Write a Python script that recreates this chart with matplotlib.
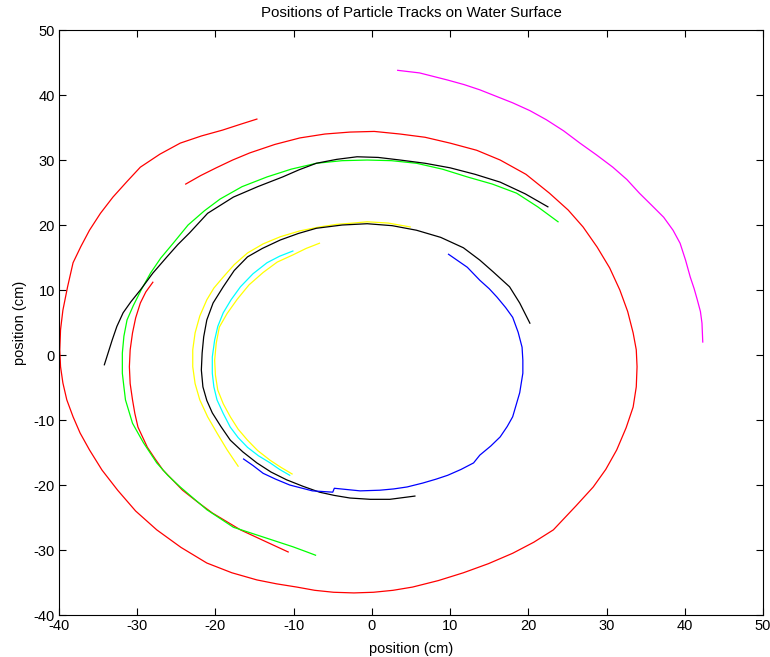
import matplotlib

matplotlib.use("Agg")
import matplotlib.pyplot as plt

# red spiral, one full loop
red1_x = [-23.8, -21.9, -19.9, -17.8, -15.6, -12.4, -9.2, -6.0, -2.8, 0.3, 3.6, 6.8, 10.0, 13.4,
          16.4, 19.7, 22.7, 25.1, 27.0, 28.8, 30.4, 31.7, 32.7, 33.4, 33.8, 33.9, 33.8, 33.4, 32.5,
          31.3, 29.9, 28.3, 26.1, 23.2, 20.7, 18.0, 14.9, 11.7, 8.5, 5.2, 2.7, 0.2, -2.3, -4.9,
          -7.3, -9.6, -12.2, -14.7, -17.9, -21.1, -24.4, -27.5, -30.2, -32.5, -34.5, -36.1, -37.3,
          -38.2, -39.0, -39.5, -39.8, -39.9, -39.8, -39.5, -38.9, -38.2, -37.2, -36.1, -34.7, -33.1,
          -31.3, -29.6, -27.1, -24.5, -21.8, -19.1, -16.8, -14.7]
red1_y = [26.3, 27.6, 28.8, 30.0, 31.1, 32.4, 33.4, 34.0, 34.3, 34.4, 34.0, 33.5, 32.6, 31.5,
          30.0, 27.8, 24.9, 22.3, 19.7, 16.6, 13.4, 10.0, 6.7, 3.4, 0.8, -1.8, -4.9, -8.0, -11.2,
          -14.6, -17.6, -20.3, -23.2, -26.9, -28.8, -30.5, -32.1, -33.5, -34.7, -35.7, -36.2, -36.5,
          -36.6, -36.5, -36.2, -35.7, -35.2, -34.6, -33.5, -32.0, -29.6, -26.9, -24.0, -20.8, -17.7,
          -14.6, -12.0, -9.5, -6.9, -4.3, -1.8, 0.8, 3.9, 6.9, 10.5, 14.2, 16.7, 19.2, 21.8, 24.3,
          26.7, 28.9, 30.9, 32.6, 33.7, 34.6, 35.5, 36.3]

red2_x = [-28.0, -28.9, -29.6, -30.2, -30.6, -30.9, -31.0, -30.9, -30.6, -30.3, -29.9, -28.7,
          -27.7, -26.7, -24.2, -22.3, -20.4, -16.8, -13.4, -10.7]
red2_y = [11.2, 9.7, 8.0, 5.7, 3.4, 0.8, -1.8, -4.4, -6.9, -9.0, -11.1, -14.2,
          -16.0, -17.7, -20.8, -22.6, -24.3, -26.9, -28.8, -30.3]

green_x = [23.8, 21.2, 18.5, 15.4, 12.2, 9.0, 5.7, 2.5, -0.6, -3.8, -7.1, -10.3, -13.4, -16.6,
           -19.4, -21.4, -23.5, -25.4, -27.0, -28.3, -29.5, -30.5, -31.3, -31.7, -31.9, -31.9,
           -31.7, -31.5, -30.6, -29.2, -27.5, -26.1, -24.5, -21.1, -17.7, -13.9, -10.1, -8.3, -7.2]
green_y = [20.5, 22.8, 24.9, 26.3, 27.4, 28.6, 29.5, 29.9, 30.0, 29.9, 29.5, 28.6, 27.4, 25.9,
           24.0, 22.2, 20.0, 17.2, 14.9, 12.6, 10.0, 7.6, 5.4, 2.9, 0.3, -2.8,
           -4.9, -6.9, -10.5, -13.5, -16.6, -18.5, -20.3, -23.8, -26.5, -28.0, -29.5, -30.3, -30.8]

black1_x = [22.5, 19.6, 16.4, 13.2, 10.0, 6.8, 3.6, 0.8, -1.9, -4.5, -7.1, -9.3, -11.4, -14.6,
            -17.7, -21.0, -23.3, -24.8, -26.2, -28.0, -29.6, -30.8, -31.8, -32.6, -33.2, -33.7, -34.2]
black1_y = [22.8, 24.8, 26.6, 27.8, 28.8, 29.5, 30.0, 30.4, 30.5, 30.1, 29.5, 28.5, 27.4, 25.9,
            24.3, 21.8, 18.8, 17.0, 15.1, 12.6, 10.0, 8.2, 6.5, 4.4, 2.3, 0.4, -1.5]

black2_x = [20.2, 18.9, 17.6, 15.5, 13.8, 11.7, 8.8, 5.7, 2.6, -0.6, -3.8, -7.1, -9.4, -11.7,
            -14.0, -15.9, -17.6, -19.0, -20.3, -21.1, -21.5, -21.7, -21.8, -21.6, -21.1, -20.4,
            -19.3, -18.1, -16.5, -14.7, -12.9, -10.9, -8.8, -6.7, -4.8, -2.8, -0.2, 2.3, 5.5]
black2_y = [4.9, 8.0, 10.5, 12.8, 14.6, 16.5, 18.1, 19.2, 19.9, 20.2, 20.0, 19.5, 18.7, 17.7,
            16.4, 15.1, 13.0, 10.5, 8.0, 5.4, 2.8, 0.3, -2.3, -4.9, -7.0, -8.9,
            -11.0, -13.1, -14.9, -16.6, -18.0, -19.2, -20.2, -21.1, -21.6, -22.0, -22.2, -22.2, -21.7]

yellow1_x = [-17.1, -18.5, -19.8, -21.0, -22.0, -22.6, -22.9, -22.9, -22.6, -22.0, -21.1, -20.2,
             -19.0, -17.6, -15.9, -13.9, -11.7, -9.2, -6.7, -4.5, -2.4, -0.6, 2.1, 4.9]
yellow1_y = [-17.1, -14.6, -12.0, -9.5, -6.9, -4.4, -1.8, 0.8, 3.4, 6.0, 8.5, 10.3,
             12.0, 13.9, 15.7, 17.1, 18.2, 19.1, 19.7, 20.1, 20.3, 20.5, 20.3, 19.7]

yellow2_x = [-6.7, -8.4, -10.1, -12.1, -13.9, -15.7, -17.2, -18.5, -19.5, -19.9, -20.1, -20.0,
             -19.7, -19.0, -18.1, -17.1, -15.9, -14.6, -13.0, -11.6, -10.2]
yellow2_y = [17.2, 16.4, 15.4, 14.3, 12.7, 10.8, 8.6, 6.4, 4.3, 1.8, -0.8, -3.1,
             -5.4, -7.5, -9.5, -11.4, -13.1, -14.7, -16.2, -17.3, -18.3]

cyan_x = [-10.1, -11.8, -13.4, -15.2, -16.8, -18.0, -19.0, -19.7, -20.1, -20.4, -20.4, -20.2,
          -19.8, -19.0, -18.1, -17.1, -15.9, -14.5, -13.0, -11.8, -10.5]
cyan_y = [16.0, 15.2, 14.2, 12.5, 10.5, 8.5, 6.5, 4.4, 2.3, -0.3, -2.8, -4.9,
          -6.9, -9.0, -11.1, -12.7, -14.2, -15.5, -16.6, -17.6, -18.5]

blue_x = [9.8, 11.0, 12.2, 13.8, 15.0, 16.0, 17.1, 18.0, 18.7, 19.2, 19.3, 19.3, 19.1, 18.9,
          18.0, 17.3, 16.4, 15.2, 13.8, 13.0, 11.4, 9.7, 8.2, 6.5, 4.5, 2.8, 1.0, -1.5, -4.8,
          -5.0, -7.6, -10.5, -12.3, -13.9, -15.2, -16.4]
blue_y = [15.5, 14.5, 13.5, 11.5, 10.2, 8.9, 7.3, 5.8, 3.5, 1.2, -0.8, -2.8, -4.3, -5.8,
          -9.5, -11.0, -12.6, -14.0, -15.4, -16.6, -17.6, -18.5, -19.1, -19.7, -20.3, -20.6, -20.8,
          -20.9, -20.5, -21.1, -20.9, -20.0, -19.1, -18.2, -17.0, -16.0]

magenta_x = [3.3, 6.1, 9.7, 11.8, 13.8, 15.9, 18.0, 20.2, 22.3, 24.5, 26.6, 28.7, 30.8, 32.6,
             34.2, 35.8, 37.3, 38.5, 39.4, 40.1, 40.7, 41.2, 41.6, 42.0, 42.2, 42.3]
magenta_y = [43.8, 43.4, 42.3, 41.6, 40.8, 39.8, 38.8, 37.6, 36.2, 34.5, 32.6, 30.8, 28.9, 27.0,
             24.9, 23.0, 21.2, 19.2, 17.2, 14.6, 12.0, 10.2, 8.5, 6.7, 4.9, 2.0]

plt.rcParams["font.family"] = ["Liberation Sans", "DejaVu Sans"]
plt.rcParams["axes.unicode_minus"] = False

fig = plt.figure(figsize=(7.7, 6.57), dpi=100)
ax = fig.add_axes([0.0766, 0.0639, 0.9143, 0.8904])

lw = 0.9
ax.plot(red1_x, red1_y, color="#ff0000", lw=lw)
ax.plot(red2_x, red2_y, color="#ff0000", lw=lw)
ax.plot(green_x, green_y, color="#00ff00", lw=lw)
ax.plot(yellow1_x, yellow1_y, color="#ffff00", lw=lw)
ax.plot(yellow2_x, yellow2_y, color="#ffff00", lw=lw)
ax.plot(cyan_x, cyan_y, color="#00ffff", lw=lw)
ax.plot(black1_x, black1_y, color="#000000", lw=lw)
ax.plot(black2_x, black2_y, color="#000000", lw=lw)
ax.plot(blue_x, blue_y, color="#0000ff", lw=lw)
ax.plot(magenta_x, magenta_y, color="#ff00ff", lw=lw)

ax.set_xlim(-40, 50)
ax.set_ylim(-40, 50)
ax.set_xticks(range(-40, 51, 10))
ax.set_yticks(range(-40, 51, 10))
ax.tick_params(direction="in", length=5, top=True, right=True, labelsize=10.5, pad=3)
ax.set_title("Positions of Particle Tracks on Water Surface", fontsize=10.8, pad=9.5)
ax.set_xlabel("position (cm)", fontsize=10.5, labelpad=6.5)
ax.set_ylabel("position (cm)", fontsize=10.5, labelpad=5)

fig.savefig("out.png", dpi=100)
plt.close(fig)
